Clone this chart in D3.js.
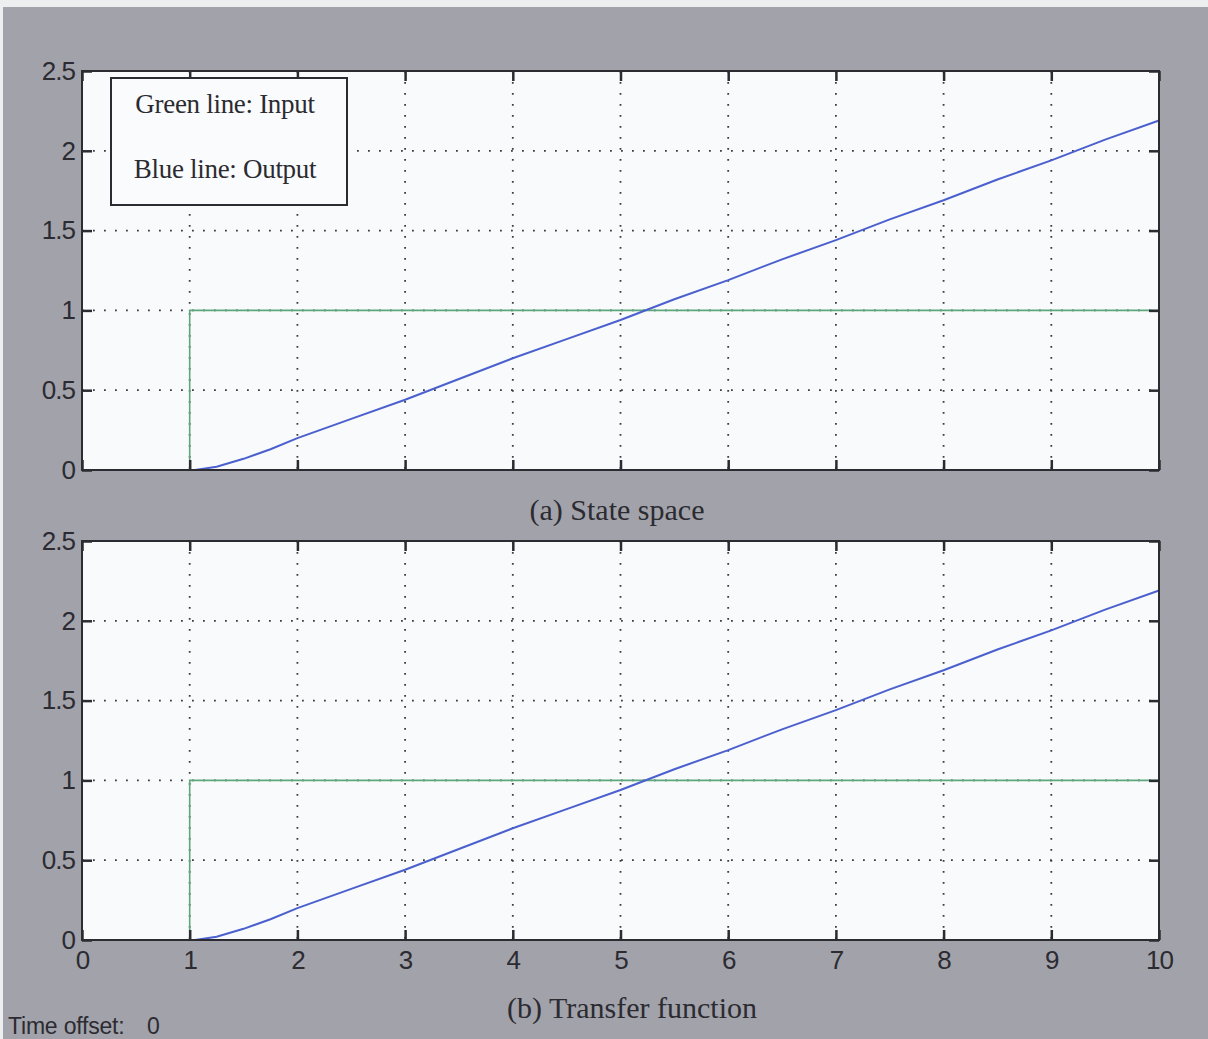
<!DOCTYPE html>
<html>
<head>
<meta charset="utf-8">
<script src="https://cdn.jsdelivr.net/npm/d3@7"></script>
<style>
  body { margin: 0; background: #a2a2aa; }
  svg { display: block; }
</style>
</head>
<body>
<script>
// time axis and tick labels
var xTicks = [0, 1, 2, 3, 4, 5, 6, 7, 8, 9, 10];
var yTicks = [0, 0.5, 1, 1.5, 2, 2.5];

// green line: step input
var inputTime = [0, 1, 1, 10];
var inputValue = [0, 0, 1, 1];

// blue line: output
var outputTime = [1.05, 1.25, 1.5, 1.75, 2, 2.5, 3, 3.5, 4, 4.5, 5, 5.5, 6, 6.5, 7, 7.5, 8, 8.5, 9, 9.5, 10];
var outputValue = [0, 0.02, 0.07, 0.13, 0.2, 0.32, 0.44, 0.57, 0.7, 0.82, 0.94, 1.07, 1.19, 1.32, 1.44, 1.57, 1.69, 1.82, 1.94, 2.07, 2.19];

var titles = ['(a) State space', '(b) Transfer function'];
var legendLines = ['Green line: Input', 'Blue line: Output'];

var W = 1208, H = 1039;
var panelLeft = 82, panelWidth = 1077, panelHeight = 399;
var panelTops = [71, 541];
var ink = '#2b2b31';

var svg = d3.select('body').append('svg')
    .attr('width', W)
    .attr('height', H);

// figure background
svg.append('rect').attr('width', W).attr('height', H).attr('fill', '#a2a2aa');
svg.append('rect').attr('width', W).attr('height', 7).attr('fill', '#eceef0');
svg.append('rect').attr('width', 3).attr('height', H).attr('fill', '#eceef0');

var x = d3.scaleLinear().domain([0, 10]).range([0, panelWidth]);
var y = d3.scaleLinear().domain([0, 2.5]).range([panelHeight, 0]);

var line = d3.line()
    .x(function(d) { return x(d[0]); })
    .y(function(d) { return y(d[1]); });

var inputPts = inputTime.map(function(t, i) { return [t, inputValue[i]]; });
var outputPts = outputTime.map(function(t, i) { return [t, outputValue[i]]; });

function drawPanel(k) {
  var g = svg.append('g')
      .attr('transform', `translate(${panelLeft}, ${panelTops[k]})`);

  g.append('rect')
      .attr('width', panelWidth)
      .attr('height', panelHeight)
      .attr('fill', '#f9fafb');

  // dotted grid
  g.selectAll('.vgrid')
      .data(xTicks.slice(1, -1))
      .enter().append('line')
      .attr('x1', function(d) { return x(d); })
      .attr('x2', function(d) { return x(d); })
      .attr('y1', 0).attr('y2', panelHeight)
      .attr('stroke', '#3c3c44')
      .attr('stroke-width', 1.8)
      .attr('stroke-dasharray', '1.8,9.2');
  g.selectAll('.hgrid')
      .data(yTicks.slice(1, -1))
      .enter().append('line')
      .attr('y1', function(d) { return y(d); })
      .attr('y2', function(d) { return y(d); })
      .attr('x1', 0).attr('x2', panelWidth)
      .attr('stroke', '#3c3c44')
      .attr('stroke-width', 1.8)
      .attr('stroke-dasharray', '1.8,9.2');

  // data lines
  g.append('path')
      .attr('d', line(inputPts))
      .attr('fill', 'none')
      .attr('stroke', '#5da77c')
      .attr('stroke-width', 1.6);
  g.append('path')
      .attr('d', line(outputPts))
      .attr('fill', 'none')
      .attr('stroke', '#4b60cf')
      .attr('stroke-width', 2);

  // axes, ticks pointing inward
  var axB = g.append('g')
      .attr('transform', `translate(0, ${panelHeight})`)
      .call(d3.axisBottom(x).tickValues(xTicks).tickSizeInner(-10).tickSizeOuter(0).tickPadding(11)
        .tickFormat(k === 1 ? d3.format('d') : function() { return ''; }));
  var axT = g.append('g')
      .call(d3.axisTop(x).tickValues(xTicks).tickSizeInner(-10).tickSizeOuter(0).tickFormat(''));
  var axL = g.append('g')
      .call(d3.axisLeft(y).tickValues(yTicks).tickSizeInner(-10).tickSizeOuter(0).tickPadding(7)
        .tickFormat(function(d) { return d3.format('')(d); }));
  var axR = g.append('g')
      .attr('transform', `translate(${panelWidth}, 0)`)
      .call(d3.axisRight(y).tickValues(yTicks).tickSizeInner(-10).tickSizeOuter(0).tickFormat(''));

  [axB, axT, axL, axR].forEach(function(a) {
    a.select('.domain').remove();
    a.selectAll('line').attr('stroke', ink).attr('stroke-width', 2.5);
    a.selectAll('text')
        .attr('fill', ink)
        .style('font-family', '"Liberation Sans", Arial, sans-serif')
        .style('font-size', '26px')
        .style('letter-spacing', '-1px');
  });

  g.append('rect')
      .attr('width', panelWidth)
      .attr('height', panelHeight)
      .attr('fill', 'none')
      .attr('stroke', ink)
      .attr('stroke-width', 2);

  // panel caption
  svg.append('text')
      .attr('x', k === 0 ? 617 : 632)
      .attr('y', k === 0 ? 520 : 1018)
      .attr('text-anchor', 'middle')
      .attr('fill', ink)
      .style('font-family', '"Liberation Serif", "Times New Roman", serif')
      .style('font-size', '30px')
      .text(titles[k]);

  return g;
}

var firstPanel = drawPanel(0);
drawPanel(1);

// legend box in the first panel
firstPanel.append('rect')
    .attr('x', 29).attr('y', 7)
    .attr('width', 236).attr('height', 127)
    .attr('fill', '#fafbfc')
    .attr('stroke', ink)
    .attr('stroke-width', 2);
firstPanel.selectAll('.legend')
    .data(legendLines)
    .enter().append('text')
    .attr('x', 29 + 114)
    .attr('y', function(d, i) { return 42 + i * 65; })
    .attr('text-anchor', 'middle')
    .attr('fill', ink)
    .style('font-family', '"Liberation Serif", "Times New Roman", serif')
    .style('font-size', '27px')
    .style('letter-spacing', '-0.3px')
    .text(function(d) { return d; });

// status text under the figure
svg.append('text')
    .attr('x', 8).attr('y', 1034)
    .attr('fill', ink)
    .style('font-family', '"Liberation Sans", Arial, sans-serif')
    .style('font-size', '23px')
    .style('letter-spacing', '-0.2px')
    .text('Time offset:');
svg.append('text')
    .attr('x', 147).attr('y', 1034)
    .attr('fill', ink)
    .style('font-family', '"Liberation Sans", Arial, sans-serif')
    .style('font-size', '23px')
    .text('0');
</script>
</body>
</html>
